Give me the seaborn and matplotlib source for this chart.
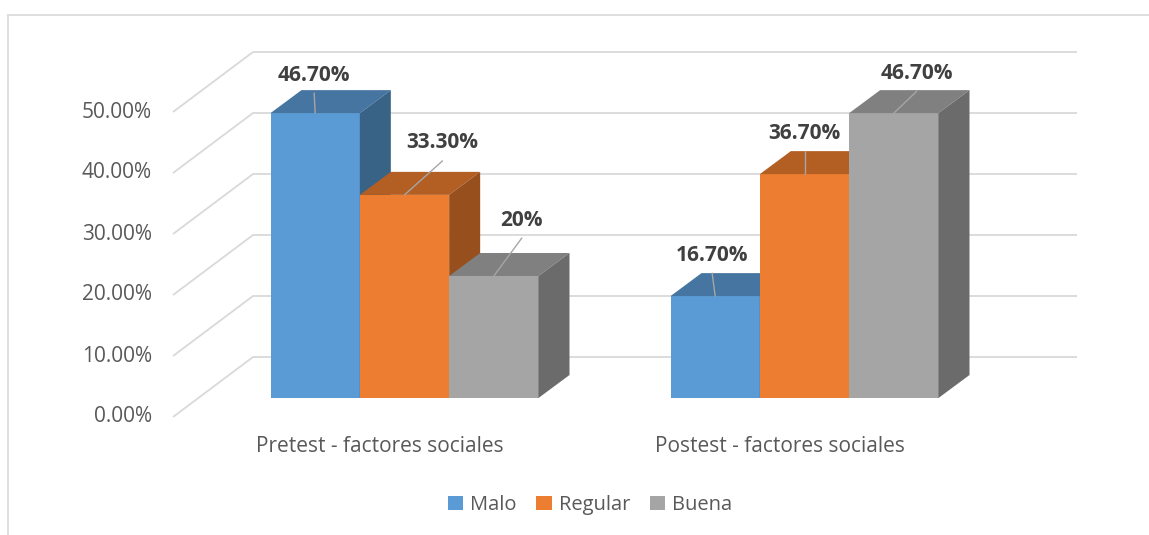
import pandas as pd
import matplotlib.pyplot as plt
import seaborn as sns
from matplotlib.patches import Polygon, Patch
from matplotlib.lines import Line2D

grupos = ['Pretest - factores sociales', 'Postest - factores sociales']
niveles = ['Malo', 'Regular', 'Buena']
pretest = [46.7, 33.3, 20.0]
postest = [16.7, 36.7, 46.7]
etiquetas = ['46.70%', '33.30%', '20%', '16.70%', '36.70%', '46.70%']
ticks = [0, 10, 20, 30, 40, 50]

colores = ['#5B9BD5', '#ED7D31', '#A5A5A5']
colores_top = ['#4575A0', '#B35E23', '#808080']
colores_lado = ['#386387', '#974F1D', '#6B6B6B']

df = pd.DataFrame({
    'Grupo': [g for g in grupos for _ in niveles],
    'Nivel': niveles * 2,
    'Porcentaje': pretest + postest,
})

sns.set_theme(style="white")
plt.rcParams['font.family'] = ['Open Sans', 'DejaVu Sans']

W, H = 1149, 535
fig = plt.figure(figsize=(W / 100, H / 100), dpi=100)
ax = fig.add_axes([0, 0, 1, 1])

sns.barplot(x='Grupo', y='Porcentaje', hue='Nivel', data=df, palette=colores,
            width=0.67, saturation=1, legend=False, edgecolor='none', ax=ax)

# escala: 400 px por categoria, 6.1 px por punto porcentual
px_x, px_y = 400.0, 6.1
x0_px, y0_px = 404.5, 398
ax.set_xlim(-x0_px / px_x, (W - x0_px) / px_x)
ax.set_ylim((y0_px - H) / px_y, y0_px / px_y)
ax.axis('off')

def dx(p):
    return p / px_x

def dy(p):
    return p / px_y

# profundidad de las barras y del piso
prof_x, prof_y = dx(31), dy(23)
fr_x, fr_y = dx(-25), dy(-19)
fin_x = dx(1077 - x0_px)

# cuadricula en perspectiva
for v in ticks:
    xf, yf = dx(173 - x0_px), v + fr_y
    xb, yb = dx(253 - x0_px), v + dy(41)
    ax.plot([xf, xb, fin_x], [yf, yb, yb], color='#D9D9D9', lw=1.3, zorder=0.5,
            solid_capstyle='butt')
    ax.text(xf - dx(21), yf, f'{v:.2f}%', ha='right', va='center',
            fontsize=15, color='#595959')

# caras superior y lateral de cada barra
barras = sorted(ax.patches, key=lambda p: p.get_x())
desp = [(-1, 38), (38, 52), (28, 56), (-3, 41), (0, 41), (23, 40)]
for k, p in enumerate(barras):
    i = k % 3
    x, w, h = p.get_x(), p.get_width(), p.get_height()
    z = 2 + 0.1 * k
    p.set_zorder(z)
    top = Polygon([(x, h), (x + w, h), (x + w + prof_x, h + prof_y), (x + prof_x, h + prof_y)],
                  closed=True, facecolor=colores_top[i], edgecolor='none', zorder=z)
    lado = Polygon([(x + w, 0), (x + w + prof_x, prof_y), (x + w + prof_x, h + prof_y), (x + w, h)],
                   closed=True, facecolor=colores_lado[i], edgecolor='none', zorder=z)
    ax.add_patch(top)
    ax.add_patch(lado)
    cx = x + w / 2
    lx, ly = cx + dx(desp[k][0]), h + dy(desp[k][1])
    ax.plot([cx, lx], [h, ly - dy(18)], color='#A6A6A6', lw=1, zorder=3)
    ax.text(lx, ly, etiquetas[k], ha='center', va='center', fontsize=15,
            fontweight='bold', color='#404040', zorder=4)

# etiquetas de categoria
for j, g in enumerate(grupos):
    ax.text(j + fr_x, dy(398 - 447), g, ha='center', va='center',
            fontsize=15, color='#595959')

handles = [Patch(facecolor=c, edgecolor='none') for c in colores]
fig.legend(handles, niveles, loc='center', bbox_to_anchor=(590 / W, 1 - 505 / H),
           ncol=3, frameon=False, fontsize=14.5, handlelength=0.75, handleheight=0.75,
           handletextpad=0.35, columnspacing=1.0, labelcolor='#595959')

# marco del grafico
fig.add_artist(Line2D([8 / W, 1], [1 - 15 / H, 1 - 15 / H], color='#D9D9D9', lw=1.2))
fig.add_artist(Line2D([8 / W, 8 / W], [0, 1 - 15 / H], color='#D9D9D9', lw=1.2))

fig.savefig('out.png', dpi=100)
